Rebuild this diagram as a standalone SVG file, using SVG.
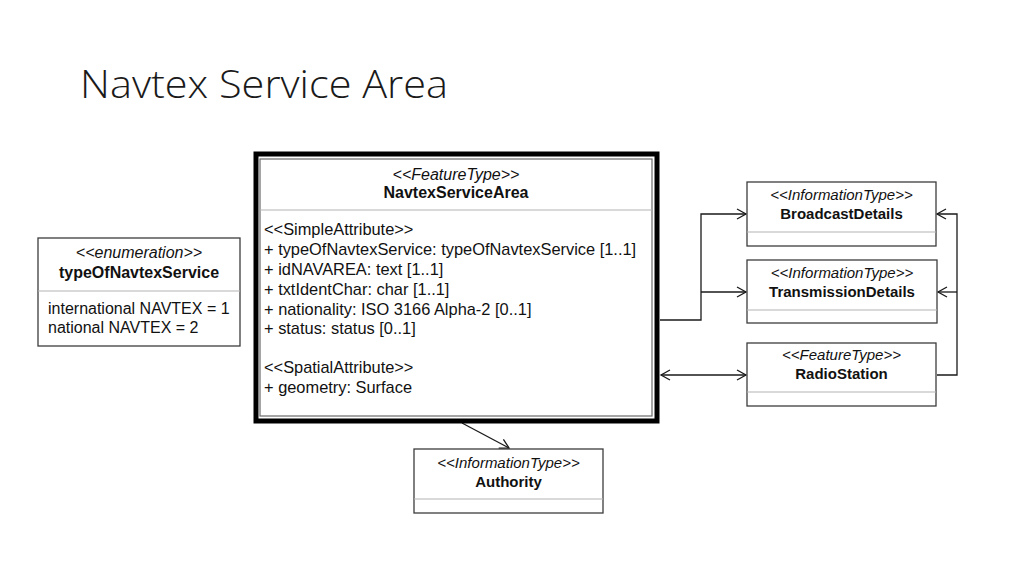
<svg xmlns="http://www.w3.org/2000/svg" width="1024" height="576" viewBox="0 0 1024 576">
<defs>
<style>
.box{fill:#fff;stroke:#3c3c3c;stroke-width:1.3}
.div{stroke:#b4b4b4;stroke-width:1.2}
.t{font-family:"Liberation Sans",Arial,sans-serif;fill:#111}
.st{font-style:italic}
.nm{font-weight:bold}
.c{text-anchor:middle}
.f16{font-size:16px}
.f164{font-size:16.4px}
.f15{font-size:15px}
.con{fill:none;stroke:#1a1a1a;stroke-width:1.3}
</style>
<marker id="arr" markerUnits="userSpaceOnUse" markerWidth="12" markerHeight="12" viewBox="0 0 12 12" refX="10" refY="6" orient="auto-start-reverse">
<path d="M1,1 L10,6 L1,11" fill="none" stroke="#1a1a1a" stroke-width="1.3"/>
</marker>
</defs>
<rect width="1024" height="576" fill="#fff"/>
<text x="80" y="98" font-family="'Open Sans','Liberation Sans',sans-serif" font-weight="300" font-size="38" fill="#1a1a1a" textLength="368" lengthAdjust="spacingAndGlyphs">Navtex Service Area</text>

<g id="connectors">
<polyline class="con" points="660,320 701,320 701,214 746,214" marker-end="url(#arr)"/>
<line class="con" x1="701" y1="292" x2="746" y2="292" marker-end="url(#arr)"/>
<line class="con" x1="661" y1="375" x2="746" y2="375" marker-start="url(#arr)" marker-end="url(#arr)"/>
<polyline class="con" points="937,375 957,375 957,214 937,214" marker-end="url(#arr)"/>
<line class="con" x1="957" y1="292" x2="938" y2="292" marker-end="url(#arr)"/>
<line class="con" x1="462" y1="423" x2="509" y2="448" marker-end="url(#arr)"/>
</g>

<g id="NavtexServiceArea">
<rect x="256" y="154" width="401" height="267" fill="#fff" stroke="#000" stroke-width="5"/>
<rect x="260" y="159" width="392" height="257" fill="#fff" stroke="#6a6a6a" stroke-width="1.2"/>
<line class="div" x1="260" y1="210" x2="652" y2="210"/>
<text class="t st c f16" x="456" y="180">&lt;&lt;FeatureType&gt;&gt;</text>
<text class="t nm c f16" x="456" y="198">NavtexServiceArea</text>
<text class="t f164" x="264" y="235">&lt;&lt;SimpleAttribute&gt;&gt;</text>
<text class="t f164" x="264" y="255">+ typeOfNavtexService: typeOfNavtexService [1..1]</text>
<text class="t f164" x="264" y="275">+ idNAVAREA: text [1..1]</text>
<text class="t f164" x="264" y="294.5">+ txtIdentChar: char [1..1]</text>
<text class="t f164" x="264" y="314.5">+ nationality: ISO 3166 Alpha-2 [0..1]</text>
<text class="t f164" x="264" y="334">+ status: status [0..1]</text>
<text class="t f164" x="264" y="373">&lt;&lt;SpatialAttribute&gt;&gt;</text>
<text class="t f164" x="264" y="393">+ geometry: Surface</text>
</g>

<g id="typeOfNavtexService">
<rect class="box" x="38" y="238" width="202" height="108"/>
<line class="div" x1="38" y1="291" x2="240" y2="291"/>
<text class="t st c f16" x="139" y="258">&lt;&lt;enumeration&gt;&gt;</text>
<text class="t nm c f16" x="139" y="277.5">typeOfNavtexService</text>
<text class="t f16" x="48" y="313.5">international NAVTEX = 1</text>
<text class="t f16" x="48" y="333">national NAVTEX = 2</text>
</g>

<g id="BroadcastDetails">
<rect class="box" x="747" y="182" width="189" height="64"/>
<line class="div" x1="747" y1="232" x2="936" y2="232"/>
<text class="t st c f15" x="841.5" y="199.5">&lt;&lt;InformationType&gt;&gt;</text>
<text class="t nm c f15" x="841.5" y="218.5">BroadcastDetails</text>
</g>

<g id="TransmissionDetails">
<rect class="box" x="747" y="260" width="190" height="63"/>
<line class="div" x1="747" y1="310" x2="937" y2="310"/>
<text class="t st c f15" x="842" y="277.5">&lt;&lt;InformationType&gt;&gt;</text>
<text class="t nm c f15" x="842" y="296.5">TransmissionDetails</text>
</g>

<g id="RadioStation">
<rect class="box" x="747" y="343" width="189" height="63"/>
<line class="div" x1="747" y1="392" x2="936" y2="392"/>
<text class="t st c f15" x="841.5" y="360">&lt;&lt;FeatureType&gt;&gt;</text>
<text class="t nm c f15" x="841.5" y="379">RadioStation</text>
</g>

<g id="Authority">
<rect class="box" x="414" y="449" width="189" height="64"/>
<line class="div" x1="414" y1="499" x2="603" y2="499"/>
<text class="t st c f15" x="508.5" y="467.5">&lt;&lt;InformationType&gt;&gt;</text>
<text class="t nm c f15" x="508.5" y="486.5">Authority</text>
</g>
</svg>
